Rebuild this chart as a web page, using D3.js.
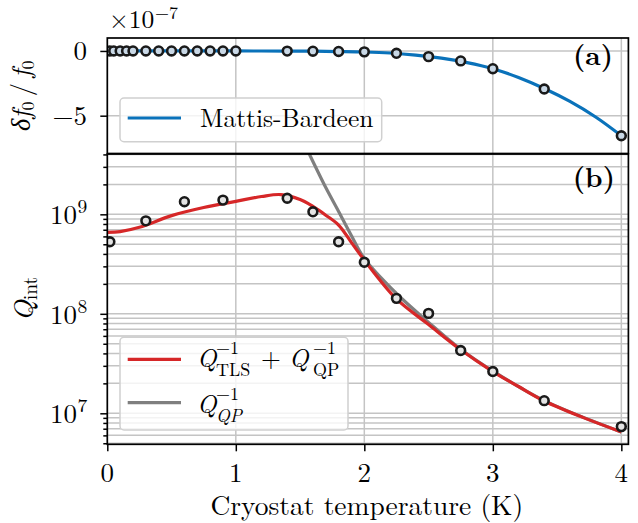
<!DOCTYPE html>
<html><head><meta charset="utf-8">
<script src="https://cdn.jsdelivr.net/npm/d3@7"></script>
<style>
body{margin:0;background:#fff}
</style>
</head><body>
<svg id="c" width="638" height="523"></svg>
<script>
// ---------- data ----------
const tempTop = [0.02,0.05,0.1,0.15,0.2,0.3,0.4,0.5,0.6,0.7,0.8,0.9,1.0,1.4,1.6,1.8,2.0,2.25,2.5,2.75,3.0,3.4,4.0];
const dfTop   = [0,0,0,0,0,0,0,0,0,0,0,0,0,-0.01,-0.02,-0.04,-0.07,-0.18,-0.44,-0.77,-1.37,-2.94,-6.55]; // x1e-7
const mbTemp  = [0,0.5,1.0,1.2,1.4,1.6,1.8,2.0,2.2,2.4,2.6,2.8,3.0,3.2,3.4,3.6,3.8,4.0];
const mbVal   = [0,0,0,-0.005,-0.01,-0.02,-0.045,-0.08,-0.16,-0.32,-0.56,-0.9,-1.37,-2.05,-2.9,-3.9,-5.1,-6.55];

const tempQ = [0.02,0.3,0.6,0.9,1.4,1.6,1.8,2.0,2.25,2.5,2.75,3.0,3.4,4.0];
const qInt  = [5.3e8,8.6e8,1.34e9,1.39e9,1.45e9,1.06e9,5.3e8,3.3e8,1.43e8,1.01e8,4.28e7,2.63e7,1.34e7,7.35e6];
const fitTemp = [0,0.1,0.25,0.5,0.75,1.0,1.2,1.35,1.5,1.6,1.7,1.8,1.9,2.0,2.25,2.5,2.75,3.0,3.2,3.4,3.7,4.0];
const fitQ    = [6.6e8,6.7e8,7.4e8,9.7e8,1.17e9,1.35e9,1.51e9,1.58e9,1.41e9,1.2e9,9.8e8,7.8e8,5.2e8,3.47e8,1.41e8,7.8e7,4.35e7,2.63e7,1.86e7,1.33e7,9.1e6,6.5e6];
const qpTemp = [1.45,1.5,1.6,1.7,1.8,1.9,2.0,2.25,2.5,2.75,3.0,3.4,4.0];
const qpQ    = [8.5e9,6.3e9,3.4e9,1.86e9,1.07e9,6.1e8,3.6e8,1.6e8,8.2e7,4.4e7,2.66e7,1.34e7,6.5e6];

const xTicks = [0,1,2,3,4];
const xTickLabels = ["0","1","2","3","4"];
const yTopTicks = [0,-5];
const yTopTickLabels = ["0","\u22125"];
const yBotTicks = [1e7,1e8,1e9];
const yBotTickExp = ["7","8","9"];

// ---------- layout ----------
const svg = d3.select("#c");
const FF = "'Latin Modern Roman', 'CMU Serif', 'Liberation Serif', serif";
const FS = 25.5, FSS = 18, FT = 27, FTS = 19.5, FL = 27.5;
const x = d3.scaleLinear().domain([0,4.055]).range([107.3,628.4]);
const yT = d3.scaleLinear().domain([-7.92,1.0]).range([153.5,38]);
const yB = d3.scaleLog().domain([4.88e6,4.04e9]).range([444.3,154]);
const L = x.range()[0], R = x.range()[1];
const gridC = "#c4c4c4";

const defs = svg.append("defs");
defs.append("clipPath").attr("id","clipT").append("rect")
  .attr("x",L).attr("y",yT.range()[1]).attr("width",R-L).attr("height",yT.range()[0]-yT.range()[1]);
defs.append("clipPath").attr("id","clipB").append("rect")
  .attr("x",L).attr("y",yB.range()[1]).attr("width",R-L).attr("height",yB.range()[0]-yB.range()[1]);

// ---------- grids ----------
const gT = svg.append("g").attr("clip-path","url(#clipT)");
gT.selectAll("line.vx").data(xTicks).join("line")
  .attr("x1",d=>x(d)).attr("x2",d=>x(d)).attr("y1",yT.range()[1]).attr("y2",yT.range()[0])
  .attr("stroke",gridC).attr("stroke-width",1.5);
gT.selectAll("line.hy").data(yTopTicks).join("line").attr("class","hy")
  .attr("x1",L).attr("x2",R).attr("y1",d=>yT(d)).attr("y2",d=>yT(d))
  .attr("stroke",gridC).attr("stroke-width",1.5);

const gB = svg.append("g").attr("clip-path","url(#clipB)");
const minorB = [];
for (let e=6;e<=9;e++) for (let m=1;m<=9;m++){ const v=m*Math.pow(10,e); if(v>=yB.domain()[0]&&v<=yB.domain()[1]) minorB.push(v); }
gB.selectAll("line.vx").data(xTicks).join("line")
  .attr("x1",d=>x(d)).attr("x2",d=>x(d)).attr("y1",yB.range()[1]).attr("y2",yB.range()[0])
  .attr("stroke",gridC).attr("stroke-width",1.5);
gB.selectAll("line.hy").data(minorB).join("line").attr("class","hy")
  .attr("x1",L).attr("x2",R).attr("y1",d=>yB(d)).attr("y2",d=>yB(d))
  .attr("stroke",gridC).attr("stroke-width",1.5);

// ---------- curves ----------
const lineT = d3.line().x(d=>x(d[0])).y(d=>yT(d[1])).curve(d3.curveCatmullRom);
const lineB = d3.line().x(d=>x(d[0])).y(d=>yB(d[1])).curve(d3.curveCatmullRom);

gT.append("path").datum(mbTemp.map((t,i)=>[t,mbVal[i]])).attr("d",lineT)
  .attr("fill","none").attr("stroke","#0a72ba").attr("stroke-width",3.2);
gT.selectAll("circle").data(tempTop.map((t,i)=>[t,dfTop[i]])).join("circle")
  .attr("cx",d=>x(d[0])).attr("cy",d=>yT(d[1])).attr("r",4.4)
  .attr("fill","#c9d8e6").attr("stroke","#1a1a1a").attr("stroke-width",2.6);

gB.append("path").datum(qpTemp.map((t,i)=>[t,qpQ[i]])).attr("d",lineB)
  .attr("fill","none").attr("stroke","#7f7f7f").attr("stroke-width",3.2);
gB.append("path").datum(fitTemp.map((t,i)=>[t,fitQ[i]])).attr("d",lineB)
  .attr("fill","none").attr("stroke","#d62728").attr("stroke-width",3.2);
gB.selectAll("circle").data(tempQ.map((t,i)=>[t,qInt[i]])).join("circle")
  .attr("cx",d=>x(d[0])).attr("cy",d=>yB(d[1])).attr("r",4.4)
  .attr("fill","#e4e4e4").attr("stroke","#1a1a1a").attr("stroke-width",2.6);

// ---------- axes ----------
function styleAxis(g){ g.select(".domain").remove(); g.selectAll(".tick line").attr("stroke","#000").attr("stroke-width",1.5); g.selectAll(".tick text").remove(); }
svg.append("g").attr("transform",`translate(0,${yB.range()[0]})`)
  .call(d3.axisBottom(x).tickValues(xTicks).tickSize(7)).call(styleAxis);
svg.append("g").attr("transform",`translate(${L},0)`)
  .call(d3.axisLeft(yT).tickValues(yTopTicks).tickSize(7)).call(styleAxis);
svg.append("g").attr("transform",`translate(${L},0)`)
  .call(d3.axisLeft(yB).tickValues(yBotTicks).tickSize(7)).call(styleAxis);
svg.append("g").attr("transform",`translate(${L},0)`)
  .call(d3.axisLeft(yB).tickValues(minorB.filter(v=>!yBotTicks.includes(v))).tickSize(4)).call(styleAxis);

// spines
svg.append("rect").attr("x",L).attr("y",yT.range()[1]).attr("width",R-L).attr("height",yT.range()[0]-yT.range()[1])
  .attr("fill","none").attr("stroke","#000").attr("stroke-width",1.7);
svg.append("rect").attr("x",L).attr("y",yB.range()[1]).attr("width",R-L).attr("height",yB.range()[0]-yB.range()[1])
  .attr("fill","none").attr("stroke","#000").attr("stroke-width",1.7);

// tick labels
svg.selectAll("text.xt").data(xTicks).join("text").attr("class","xt")
  .attr("x",d=>x(d)).attr("y",482).attr("text-anchor","middle").attr("font-size",FT)
  .text((d,i)=>xTickLabels[i]);
svg.selectAll("text.yt").data(yTopTicks).join("text").attr("class","yt")
  .attr("x",87).attr("y",d=>yT(d)+9).attr("text-anchor","end").attr("font-size",FT)
  .text((d,i)=>yTopTickLabels[i]);
yBotTicks.forEach((v,i)=>{
  svg.append("text").attr("x",77).attr("y",yB(v)+10).attr("text-anchor","end").attr("font-size",FT).text("10");
  svg.append("text").attr("x",77.5).attr("y",yB(v)-1).attr("font-size",FTS).text(yBotTickExp[i]);
});

// offset text ×10^-7
svg.append("text").attr("x",109).attr("y",28).attr("font-size",FS).text("\u00d710");
svg.append("text").attr("x",155).attr("y",19).attr("font-size",FSS).text("\u22127");

// panel labels
svg.append("text").attr("x",613).attr("y",65).attr("text-anchor","end").attr("font-size",FL).attr("font-weight","bold").text("(a)");
svg.append("text").attr("x",615).attr("y",187).attr("text-anchor","end").attr("font-size",FL).attr("font-weight","bold").text("(b)");

// axis labels
svg.append("text").attr("x",366.8).attr("y",515).attr("text-anchor","middle").attr("font-size",FL)
  .text("Cryostat temperature (K)");

const yl1 = svg.append("text").attr("transform",`translate(30,${(yT.range()[0]+yT.range()[1])/2}) rotate(-90)`)
  .attr("text-anchor","middle").attr("font-size",26.5);
yl1.append("tspan").attr("font-style","italic").text("\u03b4f");
yl1.append("tspan").attr("font-size",FSS).attr("dy",4).text("0");
yl1.append("tspan").attr("dy",-4).text("\u2009/\u2009");
yl1.append("tspan").attr("font-style","italic").text("f");
yl1.append("tspan").attr("font-size",FSS).attr("dy",4).text("0");

const yl2 = svg.append("text").attr("transform",`translate(33,${(yB.range()[0]+yB.range()[1])/2}) rotate(-90)`)
  .attr("text-anchor","middle").attr("font-size",FL);
yl2.append("tspan").attr("font-style","italic").text("Q");
yl2.append("tspan").attr("font-size",FTS).attr("dy",4).text("int");

// ---------- legends ----------
svg.append("rect").attr("x",120).attr("y",98).attr("width",261.7).attr("height",43.7).attr("rx",4)
  .attr("fill","#fff").attr("fill-opacity",0.8).attr("stroke","#d0d0d0").attr("stroke-width",1.5);
svg.append("line").attr("x1",127.7).attr("x2",181).attr("y1",118).attr("y2",118).attr("stroke","#0a72ba").attr("stroke-width",3.2);
svg.append("text").attr("x",200).attr("y",127).attr("font-size",FS).text("Mattis-Bardeen");

svg.append("rect").attr("x",120).attr("y",337.3).attr("width",228).attr("height",92.7).attr("rx",4)
  .attr("fill","#fff").attr("fill-opacity",0.8).attr("stroke","#d0d0d0").attr("stroke-width",1.5);
svg.append("line").attr("x1",127.7).attr("x2",181).attr("y1",359.3).attr("y2",359.3).attr("stroke","#d62728").attr("stroke-width",3.2);
svg.append("line").attr("x1",127.7).attr("x2",181).attr("y1",402.7).attr("y2",402.7).attr("stroke","#7f7f7f").attr("stroke-width",3.2);

function tx(xp,yp,s,size,italic){ return svg.append("text").attr("x",xp).attr("y",yp).attr("font-size",size).attr("font-style",italic?"italic":"normal").text(s); }
tx(197,367,"Q",FS,true);
tx(216,354,"\u22121",FSS,false);
tx(216,376,"TLS",FSS,false);
tx(261,367,"+",FS,false);
tx(289,367,"Q",FS,true);
tx(313,354,"\u22121",FSS,false);
tx(313,376,"QP",FSS,false);
tx(197,413,"Q",FS,true);
tx(216,400,"\u22121",FSS,false);
tx(216,422,"QP",FSS,true);

// font on every text element
svg.selectAll("text").attr("font-family",FF).attr("fill","#000");
</script>
</body></html>
